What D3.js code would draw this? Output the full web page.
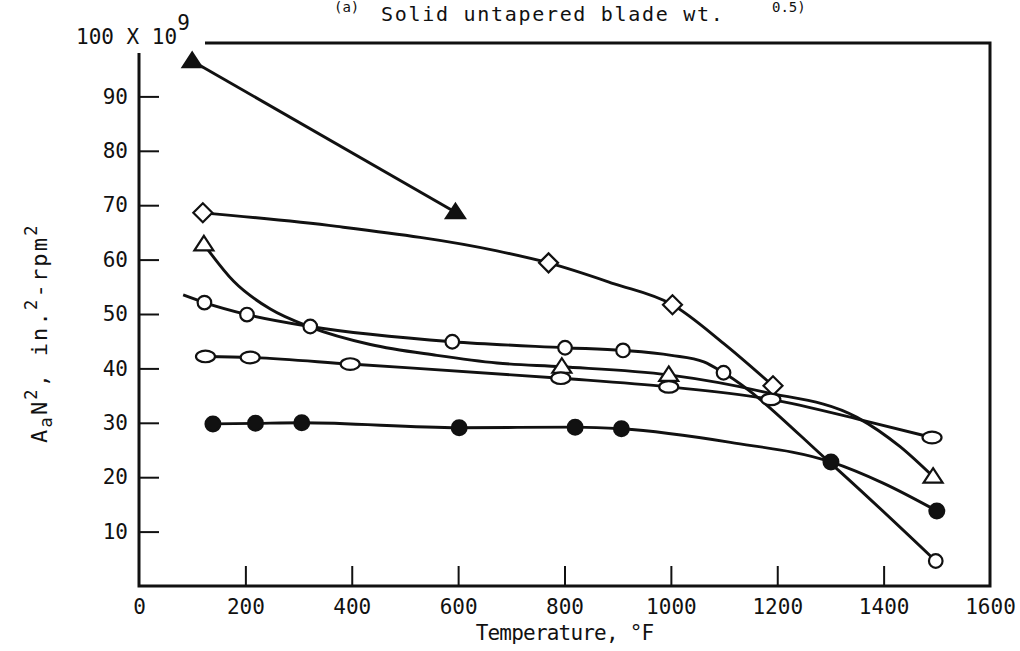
<!DOCTYPE html>
<html>
<head>
<meta charset="utf-8">
<script src="https://cdn.jsdelivr.net/npm/d3@7"></script>
<style>
  body { margin: 0; background: #fff; }
  text { font-family: "DejaVu Sans Mono", "Liberation Mono", monospace; fill: #111; }
</style>
</head>
<body>
<svg id="chart" width="1020" height="651"></svg>
<script>
// Axis ticks
const xTicks = [0, 200, 400, 600, 800, 1000, 1200, 1400, 1600];
const yTicks = [10, 20, 30, 40, 50, 60, 70, 80, 90];

// Solid triangles
const triFilledT = [100, 595];
const triFilledV = [96.5, 68.7];

// Diamonds (markers, then extra points along the faired curve)
const diamondT = [120, 770, 1003, 1192];
const diamondV = [68.6, 59.4, 51.7, 36.8];
const diamondBendT = [372, 673, 892, 1099];
const diamondBendV = [66.1, 61.6, 55.6, 44.6];

// Open circles
const circleT = [123, 203, 322, 589, 801, 910, 1099, 1498];
const circleV = [52.1, 49.9, 47.7, 44.9, 43.8, 43.3, 39.2, 4.6];
const circleBendT = [83, 1001, 1062, 1300];
const circleBendV = [53.5, 42.4, 41.2, 22.6];

// Open ovals
const ovalT = [125, 209, 397, 793, 996, 1188, 1491];
const ovalV = [42.2, 42.0, 40.8, 38.2, 36.6, 34.3, 27.3];
const ovalBendT = [1355];
const ovalBendV = [30.6];

// Open triangles
const triOpenT = [122, 795, 996, 1493];
const triOpenV = [62.8, 40.3, 38.8, 20.1];
const triOpenBendT = [178, 247, 322, 435, 560, 673, 1174, 1350, 1431];
const triOpenBendV = [56.0, 50.9, 47.6, 44.4, 42.4, 41.0, 35.7, 31.0, 25.6];

// Solid circles
const dotT = [139, 219, 306, 602, 820, 907, 1301, 1500];
const dotV = [29.8, 29.9, 30.0, 29.1, 29.2, 28.9, 22.8, 13.8];
const dotBendT = [1112, 1399];
const dotBendV = [26.4, 18.9];

const ink = "#111";
const numFont = "'DejaVu Sans Condensed', 'DejaVu Sans', sans-serif";
const svg = d3.select("#chart");
const x = d3.scaleLinear().domain([0, 1600]).range([139, 990]);
const y = d3.scaleLinear().domain([0, 100]).range([586, 42]);

const zip = (t, v) => t.map((d, i) => [d, v[i]]);
const trace = (t, v, bt = [], bv = []) =>
  zip(t, v).concat(zip(bt, bv)).sort((a, b) => a[0] - b[0]);

// Frame: left axis, bottom axis, right edge, top edge (open at the upper left)
svg.append("path")
  .attr("d", `M${x(0)},${y(100) + 11} V${y(0)} H${x(1600)} V${y(100) + 1} H205`)
  .attr("fill", "none").attr("stroke", ink).attr("stroke-width", 3);

// Bottom axis
const gx = svg.append("g")
  .attr("transform", `translate(0,${y(0)})`)
  .call(d3.axisBottom(x).tickValues(xTicks).tickFormat(d3.format("d"))
    .tickSizeInner(-20).tickSizeOuter(0).tickPadding(13));
gx.select(".domain").remove();
gx.selectAll(".tick line").attr("stroke", ink).attr("stroke-width", 2)
  .filter(d => d === 0 || d === 1600).remove();
gx.selectAll(".tick text").attr("font-size", 21)
  .attr("font-family", numFont).attr("fill", ink);

// Left axis
const gy = svg.append("g")
  .attr("transform", `translate(${x(0)},0)`)
  .call(d3.axisLeft(y).tickValues(yTicks).tickFormat(d3.format("d"))
    .tickSizeInner(-20).tickSizeOuter(0).tickPadding(11));
gy.select(".domain").remove();
gy.selectAll(".tick line").attr("stroke", ink).attr("stroke-width", 2);
gy.selectAll(".tick text").attr("font-size", 21)
  .attr("font-family", numFont).attr("fill", ink);

// Top tick label with the scale factor
const topLbl = svg.append("text").attr("x", 76).attr("y", 44).attr("font-size", 21);
topLbl.append("tspan").text("100 X 10");
topLbl.append("tspan").attr("dy", -14).text("9");

// Title lines
svg.append("text").attr("x", 334).attr("y", 12).attr("font-size", 14).text("(a)");
svg.append("text").attr("x", 772).attr("y", 12).attr("font-size", 14).text("0.5)");
svg.append("text").attr("x", 381).attr("y", 21).attr("font-size", 20)
  .attr("letter-spacing", 1.7).text("Solid untapered blade wt.");

// Axis titles
svg.append("text").attr("x", (x(0) + x(1600)) / 2).attr("y", 640)
  .attr("text-anchor", "middle").attr("font-size", 21).attr("letter-spacing", -0.8)
  .text("Temperature, °F");

const yt = svg.append("text").attr("transform", "translate(47,443) rotate(-90)")
  .attr("font-size", 22).attr("letter-spacing", 2.2);
yt.append("tspan").text("A");
yt.append("tspan").attr("font-size", 17).attr("dy", 5).text("a");
yt.append("tspan").attr("dy", -5).text("N");
yt.append("tspan").attr("font-size", 17).attr("dy", -10).text("2");
yt.append("tspan").attr("dy", 10).text(", in.");
yt.append("tspan").attr("font-size", 17).attr("dy", -10).text("2");
yt.append("tspan").attr("dy", 10).text("-rpm");
yt.append("tspan").attr("font-size", 17).attr("dy", -10).text("2");

// Faired curves
const line = d3.line().x(d => x(d[0])).y(d => y(d[1])).curve(d3.curveMonotoneX);
const curves = [
  trace(triFilledT, triFilledV),
  trace(diamondT, diamondV, diamondBendT, diamondBendV),
  trace(circleT, circleV, circleBendT, circleBendV),
  trace(ovalT, ovalV, ovalBendT, ovalBendV),
  trace(triOpenT, triOpenV, triOpenBendT, triOpenBendV),
  trace(dotT, dotV, dotBendT, dotBendV)
];
svg.append("g").selectAll("path").data(curves).join("path")
  .attr("d", line).attr("fill", "none").attr("stroke", ink)
  .attr("stroke-width", 2.9).attr("stroke-linejoin", "round");

// Marker shapes
const triPath = "M0,-8.5L9.5,6L-9.5,6Z";
const diaPath = "M0,-9.5L9.5,0L0,9.5L-9.5,0Z";
const marks = svg.append("g").attr("stroke", ink).attr("stroke-width", 2.2);

marks.selectAll(".tf").data(zip(triFilledT, triFilledV)).join("path")
  .attr("d", triPath).attr("fill", ink)
  .attr("transform", d => `translate(${x(d[0])},${y(d[1])})`);
marks.selectAll(".dm").data(zip(diamondT, diamondV)).join("path")
  .attr("class", "dm").attr("d", diaPath).attr("fill", "#fff")
  .attr("transform", d => `translate(${x(d[0])},${y(d[1])})`);
marks.selectAll(".to").data(zip(triOpenT, triOpenV)).join("path")
  .attr("class", "to").attr("d", triPath).attr("fill", "#fff")
  .attr("transform", d => `translate(${x(d[0])},${y(d[1])})`);
marks.selectAll(".ov").data(zip(ovalT, ovalV)).join("ellipse")
  .attr("class", "ov").attr("rx", 9.5).attr("ry", 5.8).attr("fill", "#fff")
  .attr("cx", d => x(d[0])).attr("cy", d => y(d[1]));
marks.selectAll(".oc").data(zip(circleT, circleV)).join("circle")
  .attr("class", "oc").attr("r", 6.8).attr("fill", "#fff")
  .attr("cx", d => x(d[0])).attr("cy", d => y(d[1]));
marks.selectAll(".fc").data(zip(dotT, dotV)).join("circle")
  .attr("class", "fc").attr("r", 7.4).attr("fill", ink)
  .attr("cx", d => x(d[0])).attr("cy", d => y(d[1]));
</script>
</body>
</html>
